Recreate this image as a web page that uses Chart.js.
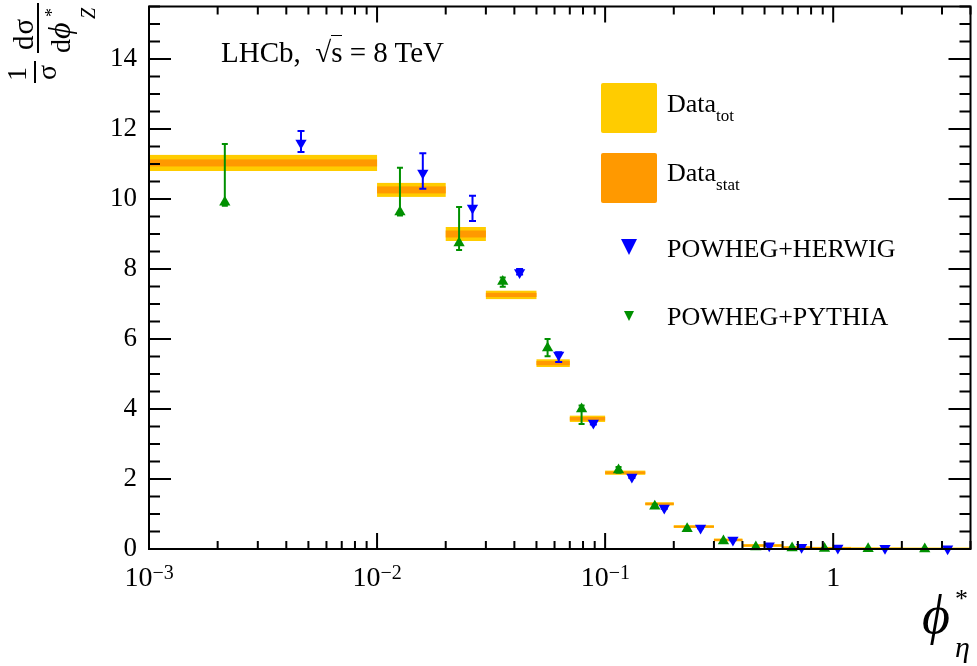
<!DOCTYPE html>
<html>
<head>
<meta charset="utf-8">
<script src="https://cdn.jsdelivr.net/npm/chart.js@4.4.1/dist/chart.umd.min.js"></script>
<style>
  html, body { margin: 0; padding: 0; background: #fff; }
  #wrap { position: relative; width: 977px; height: 666px; font-family: 'Liberation Serif', 'Times New Roman', serif; color: #000; }
  canvas { position: absolute; left: 0; top: 0; }
  .txt { position: absolute; white-space: nowrap; line-height: 1; }
  .xl { font-size: 28px; }
  .xl sup { font-size: 20px; position: relative; top: -7px; vertical-align: baseline; line-height: 0; }
  .leg { font-size: 26px; }
  .leg sub { font-size: 17px; position: relative; top: 9px; vertical-align: baseline; line-height: 0; }
  .box { position: absolute; width: 56px; height: 50px; border-radius: 2px; }
  #ytitle { position: absolute; left: 0; top: 85px; width: 90px; height: 100px; transform: rotate(-90deg); transform-origin: 0 0; }
  #ytitle .bar { position: absolute; height: 2px; background: #000; }
</style>
</head>
<body>
<div id="wrap">
  <canvas id="chart" width="977" height="666"></canvas>

  <div class="txt" style="left:221px;top:38px;font-size:29px">LHCb,&nbsp; √<span style="border-top:1.5px solid #000">s</span> = 8 TeV</div>

  <div class="box" style="left:601px;top:83px;background:#ffcc00"></div>
  <div class="box" style="left:601px;top:153px;background:#ff9900"></div>
  <div class="txt leg" style="left:667px;top:91px">Data<sub>tot</sub></div>
  <div class="txt leg" style="left:667px;top:160px">Data<sub>stat</sub></div>
  <div style="position:absolute;left:621px;top:239px;width:0;height:0;border-left:8px solid transparent;border-right:8px solid transparent;border-top:16px solid #0000ff"></div>
  <div class="txt leg" style="left:667px;top:236px">POWHEG+HERWIG</div>
  <div style="position:absolute;left:624px;top:311px;width:0;height:0;border-left:5px solid transparent;border-right:5px solid transparent;border-top:10px solid #009000"></div>
  <div class="txt leg" style="left:667px;top:304px">POWHEG+PYTHIA</div>

  <div id="ytitle">
    <div class="txt" style="left:4px;top:3px;font-size:28px">1</div>
    <div class="bar" style="left:2px;top:34px;width:22px"></div>
    <div class="txt" style="left:5px;top:33px;font-size:28px">σ</div>
    <div class="txt" style="left:35px;top:9px;font-size:29px;letter-spacing:1px">dσ</div>
    <div class="bar" style="left:32px;top:37px;width:50px"></div>
    <div class="txt" style="left:32px;top:43px;font-size:28px">d<span style="font-size:32px;font-style:italic">ϕ</span></div>
    <div class="txt" style="left:68px;top:43px;font-size:18px">*</div>
    <div class="txt" style="left:66px;top:78px;font-size:20px;font-style:italic">Z</div>
  </div>

  <div class="txt" style="left:922px;top:588px;font-size:54px;font-style:italic">ϕ</div>
  <div class="txt" style="left:955px;top:586px;font-size:26px">*</div>
  <div class="txt" style="left:955px;top:632px;font-size:30px;font-style:italic">η</div>
</div>

<script>
// bin edges in phi*
const binEdges = [0.001, 0.01, 0.02, 0.03, 0.05, 0.07, 0.1, 0.15, 0.2, 0.3, 0.4, 0.6, 0.8, 1.2, 2, 4];

// measured data with stat and total uncertainties
const dataVals = [11.03, 10.26, 9.0, 7.26, 5.31, 3.72, 2.18, 1.29, 0.64, 0.26, 0.1, 0.04, 0.02, 0.008, 0.002];
const totErr   = [0.23, 0.2, 0.2, 0.12, 0.11, 0.09, 0.06, 0.045, 0.04, 0.04, 0.04, 0.04, 0.04, 0.04, 0.04];
const statErr  = [0.1, 0.1, 0.1, 0.06, 0.06, 0.05, 0.035, 0.03, 0.025, 0.025, 0.025, 0.025, 0.025, 0.025, 0.025];

// POWHEG+HERWIG
const herwigX  = [0.00464, 0.01587, 0.02621, 0.04217, 0.06258, 0.08879, 0.131, 0.1817, 0.2621, 0.3634, 0.5242, 0.7268, 1.048, 1.687, 3.175];
const herwigY  = [11.6, 10.74, 9.74, 7.9, 5.54, 3.6, 2.06, 1.17, 0.6, 0.26, 0.09, 0.05, 0.03, 0.02, 0.01];
const herwigUp = [0.34, 0.57, 0.35, 0.1, 0.08, 0.04, 0.03, 0.02, 0.01, 0.01, 0.01, 0.01, 0.005, 0.005, 0.003];
const herwigDn = [0.26, 0.45, 0.37, 0.06, 0.2, 0.04, 0.03, 0.02, 0.01, 0.01, 0.01, 0.01, 0.005, 0.005, 0.003];

// POWHEG+PYTHIA
const pythiaX  = [0.00215, 0.0126, 0.02289, 0.03557, 0.05593, 0.07884, 0.1145, 0.1651, 0.2289, 0.3302, 0.4579, 0.6604, 0.9158, 1.423, 2.52];
const pythiaY  = [9.91, 9.63, 8.74, 7.64, 5.74, 4.0, 2.26, 1.22, 0.58, 0.23, 0.06, 0.03, 0.015, 0.008, 0.003];
const pythiaUp = [1.66, 1.26, 1.03, 0.12, 0.26, 0.1, 0.08, 0.05, 0.03, 0.02, 0.01, 0.01, 0.005, 0.003, 0.002];
const pythiaDn = [0.1, 0.1, 0.2, 0.15, 0.23, 0.43, 0.08, 0.05, 0.03, 0.02, 0.01, 0.01, 0.005, 0.003, 0.002];

// axis ticks
const xMajorTicks = [0.001, 0.01, 0.1, 1];
const xTickLabels = ['10<sup>−3</sup>', '10<sup>−2</sup>', '10<sup>−1</sup>', '1'];
const xMin = 0.001, xMax = 4;
const yMin = 0, yMax = 15.5;

const xTickValues = [];
for (let e = -3; e <= 0; e++) {
  for (let k = 1; k <= 9; k++) {
    const v = Number((k * Math.pow(10, e)).toPrecision(3));
    if (v <= xMax) xTickValues.push(v);
  }
}

const models = [
  { xs: herwigX, ys: herwigY, up: herwigUp, dn: herwigDn, color: '#0000ff', cap: 7 },
  { xs: pythiaX, ys: pythiaY, up: pythiaUp, dn: pythiaDn, color: '#009000', cap: 6 }
];

const bands = {
  id: 'bands',
  beforeDatasetsDraw(chart) {
    const { ctx, chartArea: a, scales: { x, y } } = chart;
    ctx.save();
    ctx.beginPath();
    ctx.rect(a.left, a.top, a.right - a.left, a.bottom - a.top);
    ctx.clip();
    dataVals.forEach((v, i) => {
      const x0 = x.getPixelForValue(binEdges[i]);
      const x1 = x.getPixelForValue(binEdges[i + 1]);
      const band = (err, col) => {
        const yt = y.getPixelForValue(v + err), yb = y.getPixelForValue(v - err);
        ctx.fillStyle = col;
        ctx.fillRect(x0, yt, x1 - x0, yb - yt);
      };
      band(totErr[i], '#ffcc00');
      band(statErr[i], '#ff9900');
    });
    // error bars of the predictions
    ctx.lineWidth = 2;
    models.forEach(m => {
      ctx.strokeStyle = m.color;
      ctx.beginPath();
      m.xs.forEach((xv, i) => {
        const px = x.getPixelForValue(xv);
        const yh = y.getPixelForValue(m.ys[i] + m.up[i]);
        const yl = y.getPixelForValue(m.ys[i] - m.dn[i]);
        ctx.moveTo(px, yh); ctx.lineTo(px, yl);
        ctx.moveTo(px - m.cap / 2, yh); ctx.lineTo(px + m.cap / 2, yh);
        ctx.moveTo(px - m.cap / 2, yl); ctx.lineTo(px + m.cap / 2, yl);
      });
      ctx.stroke();
    });
    ctx.restore();
  }
};

const frameTicks = {
  id: 'frameTicks',
  afterDraw(chart) {
    const { ctx, chartArea: a, scales: { x, y } } = chart;
    ctx.save();
    ctx.strokeStyle = '#000';
    ctx.lineWidth = 2;
    ctx.beginPath();
    x.ticks.forEach(t => {
      const px = x.getPixelForValue(t.value);
      const len = xMajorTicks.includes(t.value) ? 16 : 8;
      ctx.moveTo(px, a.bottom); ctx.lineTo(px, a.bottom - len);
      ctx.moveTo(px, a.top); ctx.lineTo(px, a.top + len);
    });
    y.ticks.forEach(t => {
      const py = y.getPixelForValue(t.value);
      const len = t.value % 2 === 0 ? 22 : 11;
      ctx.moveTo(a.left, py); ctx.lineTo(a.left + len, py);
      ctx.moveTo(a.right, py); ctx.lineTo(a.right - len, py);
    });
    ctx.stroke();
    ctx.strokeRect(a.left, a.top, a.right - a.left, a.bottom - a.top);
    ctx.restore();
  }
};

const xLabels = {
  id: 'xLabels',
  afterRender(chart) {
    const wrap = document.getElementById('wrap');
    const x = chart.scales.x;
    xMajorTicks.forEach((v, i) => {
      let el = document.getElementById('xl' + i);
      if (!el) {
        el = document.createElement('div');
        el.id = 'xl' + i;
        el.className = 'txt xl';
        el.innerHTML = xTickLabels[i];
        wrap.appendChild(el);
      }
      el.style.left = (x.getPixelForValue(v) - el.offsetWidth / 2) + 'px';
      el.style.top = (chart.chartArea.bottom + 14) + 'px';
    });
  }
};

new Chart(document.getElementById('chart'), {
  type: 'scatter',
  data: {
    datasets: [
      {
        label: 'POWHEG+HERWIG',
        data: herwigX.map((xv, i) => ({ x: xv, y: herwigY[i] })),
        pointStyle: 'triangle', rotation: 180, radius: 6.5,
        backgroundColor: '#0000ff', borderColor: '#0000ff', borderWidth: 0, clip: false
      },
      {
        label: 'POWHEG+PYTHIA',
        data: pythiaX.map((xv, i) => ({ x: xv, y: pythiaY[i] })),
        pointStyle: 'triangle', radius: 6.5,
        backgroundColor: '#009000', borderColor: '#009000', borderWidth: 0, clip: false
      }
    ]
  },
  options: {
    responsive: false,
    animation: false,
    devicePixelRatio: 1,
    layout: { padding: { left: 0, right: 5, top: 5, bottom: 0 } },
    plugins: { legend: { display: false }, tooltip: { enabled: false } },
    scales: {
      x: {
        type: 'logarithmic', min: xMin, max: xMax,
        grid: { display: false }, border: { display: false },
        ticks: { display: false },
        afterBuildTicks(s) { s.ticks = xTickValues.map(v => ({ value: v })); },
        afterFit(s) { s.height = 117; s.paddingLeft = 0; s.paddingRight = 0; }
      },
      y: {
        min: yMin, max: yMax,
        grid: { display: false }, border: { display: false },
        ticks: {
          stepSize: 0.5, autoSkip: false, padding: 4, color: '#000',
          font: { family: 'Liberation Serif', size: 27 },
          callback: v => (v % 2 === 0 ? v : '')
        },
        afterFit(s) { s.width = 149; s.paddingTop = 0; s.paddingBottom = 0; }
      }
    }
  },
  plugins: [bands, frameTicks, xLabels]
});
</script>
</body>
</html>
